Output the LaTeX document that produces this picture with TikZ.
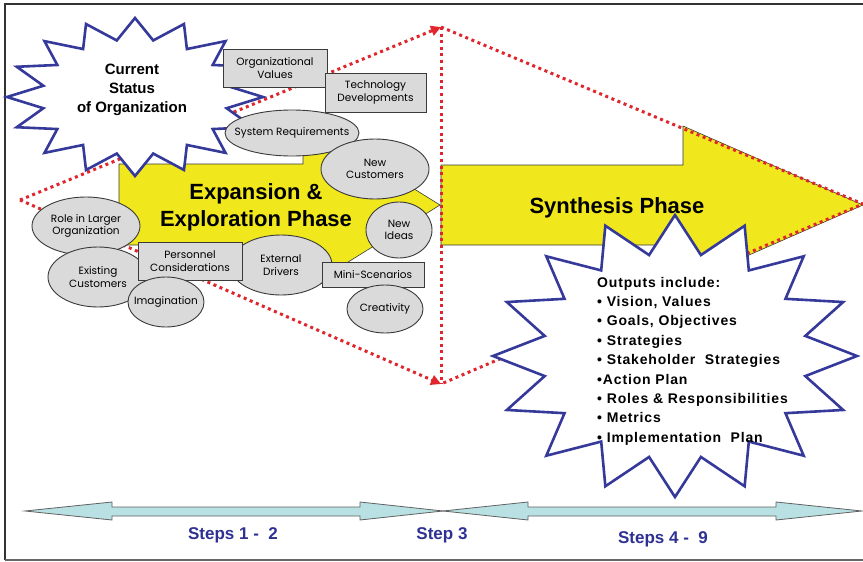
\documentclass[tikz,border=0pt]{standalone}
\usepackage{fontspec}
\setmainfont{Liberation Sans}
\newfontfamily\lblfont{Poppins}
\usetikzlibrary{shapes.geometric,arrows.meta}
\definecolor{yellowf}{HTML}{F0E81C}
\definecolor{boxgray}{HTML}{DADADA}
\definecolor{boxline}{HTML}{3A3A3A}
\definecolor{starblue}{HTML}{35399A}
\definecolor{dotred}{HTML}{E0262C}
\definecolor{cyanf}{HTML}{B9E0E3}
\definecolor{navy}{HTML}{2E3192}
\tikzset{
  lbl/.style={inner sep=0pt, align=center, font=\lblfont\fontsize{10.5}{12.5}\selectfont},
  gbox/.style={draw=boxline, fill=boxgray, line width=0.9pt, lbl},
  gell/.style={ellipse, draw=boxline, fill=boxgray, line width=0.9pt, inner sep=0pt},
  reddot/.style={draw=dotred, line width=3pt, dash pattern=on 3pt off 3.6pt},
  redtip/.style={-{Triangle[length=10pt,width=10pt]}},
  starln/.style={draw=starblue, fill=white, line width=2.6pt, line join=miter},
  yarrow/.style={draw=boxline, fill=yellowf, line width=0.6pt},
  carrow/.style={draw=boxline!80, fill=cyanf, line width=0.8pt},
  bigtxt/.style={font=\bfseries\fontsize{22}{27}\selectfont, align=center, inner sep=0pt},
  outtxt/.style={anchor=base west, inner sep=0pt, font=\bfseries\fontsize{14}{19}\selectfont\addfontfeatures{LetterSpace=6}},
  steptxt/.style={text=navy, font=\bfseries\fontsize{17}{20}\selectfont, inner sep=0pt}
}
\begin{document}
\begin{tikzpicture}[x=1pt,y=-1pt]
\useasboundingbox (0,0) rectangle (863,562);
\fill[white] (0,0) rectangle (863,562);
% frame
\draw[draw=black!80, line width=2.2pt] (863,4) -- (5,4) -- (5,560);
\draw[draw=black!60, line width=1.8pt] (5,560) -- (863,560);

% yellow arrows
\draw[yarrow] (119,164) -- (303,164) -- (303,120) -- (440,205) -- (303,290) -- (303,245) -- (119,245) -- cycle;
\draw[yarrow] (441,165) -- (683,165) -- (683,126) -- (863,205) -- (683,284) -- (683,245) -- (441,245) -- cycle;

% dotted outline
\coordinate (L) at (20,200);
\coordinate (T) at (441,27);
\coordinate (B) at (441,384);
\coordinate (R) at (863,204);
\draw[reddot] (T) -- (B);
\draw[reddot] (T) -- (R) -- (B);
\draw[reddot, redtip] (L) -- (T);
\draw[reddot, redtip] (L) -- (B);

% phase labels
\node[bigtxt] (expl) at (256,207) {Expansion \&\\Exploration Phase};
\node[bigtxt] (synth) at (617,208) {Synthesis Phase};

% left star
\begin{scope}[shift={(135,97)}]
\draw[starln] (90:128 and 79) \foreach \i [evaluate=\i as \f using {mod(\i,2)==0 ? 1 : 0.73}] in {1,...,31} { -- ({90+\i*11.25}:{128*\f} and {79*\f}) } -- cycle;
\end{scope}
\node[font=\bfseries\fontsize{15}{19}\selectfont, align=center, inner sep=0pt] (cur) at (132,90) {Current\\Status\\of Organization};

% boxes and ellipses
\node[gbox, minimum width=104pt, minimum height=38pt] (orgval) at (275,68) {Organizational\\Values};
\node[gbox, minimum width=101pt, minimum height=39pt] (techdev) at (375.5,92.5) {Technology\\Developments};
\node[gell, minimum width=134pt, minimum height=46pt, label={[lbl]center:System Requirements}] (sysreq) at (292,133) {};
\node[gell, minimum width=108pt, minimum height=60pt, label={[lbl]center:New\\Customers}] (newcust) at (375,169) {};
\node[gell, minimum width=108pt, minimum height=58pt, label={[lbl]center:Role in Larger\\Organization}] (role) at (86,226) {};
\node[gell, minimum width=100pt, minimum height=60pt, label={[lbl]center:Existing\\Customers}] (exist) at (98,277) {};
\node[gell, minimum width=102pt, minimum height=60pt, label={[lbl]center:External\\Drivers}] (extdr) at (281,265) {};
\node[gbox, minimum width=104pt, minimum height=38pt] (pers) at (190,261) {Personnel\\Considerations};
\node[gell, minimum width=76pt, minimum height=50pt, label={[lbl]center:Imagination}] (imag) at (166,302) {};
\node[gell, minimum width=66pt, minimum height=56pt, label={[lbl]center:New\\Ideas}] (newid) at (399,230) {};
\node[gbox, minimum width=102pt, minimum height=25pt] (mini) at (373,274.5) {Mini-Scenarios};
\node[gell, minimum width=76pt, minimum height=48pt, label={[lbl]center:Creativity}] (creat) at (385,309) {};

% right star
\begin{scope}[shift={(675,356)}]
\draw[starln] (90:182 and 141) \foreach \i [evaluate=\i as \f using {mod(\i,2)==0 ? 1 : 0.73}] in {1,...,31} { -- ({90+\i*11.25}:{182*\f} and {141*\f}) } -- cycle;
\end{scope}
\node[outtxt] (o0) at (597,287) {Outputs include:};
\node[outtxt] (o1) at (597,306.4) {• Vision, Values};
\node[outtxt] (o2) at (597,325.8) {• Goals, Objectives};
\node[outtxt] (o3) at (597,345.2) {• Strategies};
\node[outtxt] (o4) at (597,364.6) {• Stakeholder \ Strategies};
\node[outtxt] (o5) at (597,384) {•Action Plan};
\node[outtxt] (o6) at (597,403.4) {• Roles \& Responsibilities};
\node[outtxt] (o7) at (597,422.8) {• Metrics};
\node[outtxt] (o8) at (597,442.2) {• Implementation \ Plan};

% bottom double arrows
\draw[carrow] (25,511) -- (112,502) -- (112,507) -- (360,507) -- (360,502) -- (443,511) -- (360,520) -- (360,516) -- (112,516) -- (112,520) -- cycle;
\draw[carrow] (443,511) -- (528,502) -- (528,507) -- (776,507) -- (776,502) -- (862,511) -- (776,520) -- (776,516) -- (528,516) -- (528,520) -- cycle;
\node[steptxt] (s12) at (233,535) {Steps 1 - \ 2};
\node[steptxt] (s3) at (442,535) {Step 3};
\node[steptxt] (s49) at (663,539) {Steps 4 - \ 9};
\end{tikzpicture}
\end{document}
